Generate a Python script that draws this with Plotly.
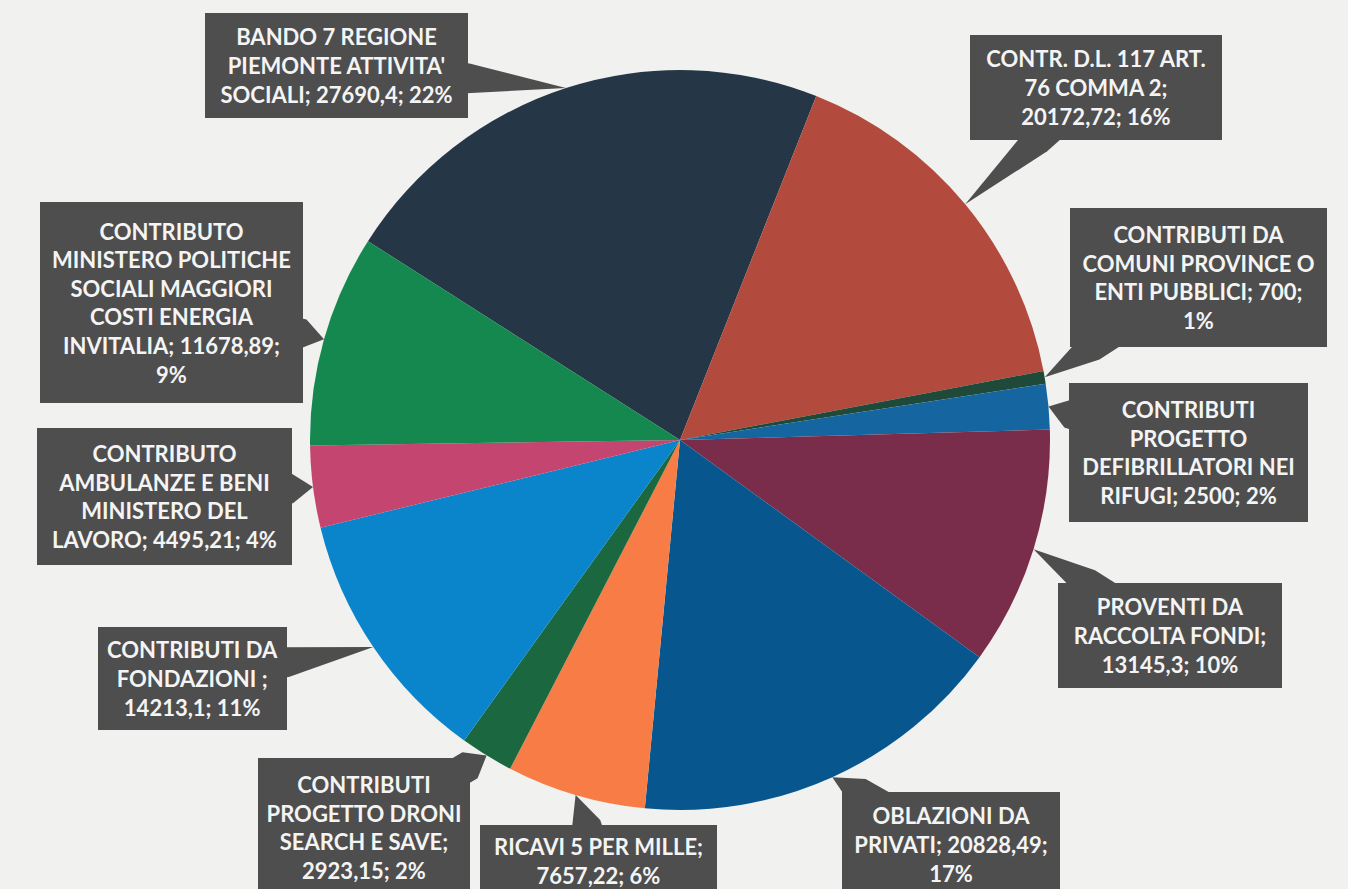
import math
import plotly.graph_objects as go

# ---------------- data ----------------
categories = [
    "BANDO 7 REGIONE PIEMONTE ATTIVITA' SOCIALI",
    "CONTR. D.L. 117 ART. 76 COMMA 2",
    "CONTRIBUTI DA COMUNI PROVINCE O ENTI PUBBLICI",
    "CONTRIBUTI PROGETTO DEFIBRILLATORI NEI RIFUGI",
    "PROVENTI DA RACCOLTA FONDI",
    "OBLAZIONI DA PRIVATI",
    "RICAVI 5 PER MILLE",
    "CONTRIBUTI PROGETTO DRONI SEARCH E SAVE",
    "CONTRIBUTI DA FONDAZIONI ",
    "CONTRIBUTO AMBULANZE E BENI MINISTERO DEL LAVORO",
    "CONTRIBUTO MINISTERO POLITICHE SOCIALI MAGGIORI COSTI ENERGIA INVITALIA",
]
values = [27690.4, 20172.72, 700, 2500, 13145.3, 20828.49,
          7657.22, 2923.15, 14213.1, 4495.21, 11678.89]

# wrapped label templates ({v} = value, {p} = percentage)
label_templates = [
    "BANDO 7 REGIONE<br>PIEMONTE ATTIVITA'<br>SOCIALI; {v}; {p}",
    "CONTR. D.L. 117 ART.<br>76 COMMA 2;<br>{v}; {p}",
    "CONTRIBUTI DA<br>COMUNI PROVINCE O<br>ENTI PUBBLICI; {v};<br>{p}",
    "CONTRIBUTI<br>PROGETTO<br>DEFIBRILLATORI NEI<br>RIFUGI; {v}; {p}",
    "PROVENTI DA<br>RACCOLTA FONDI;<br>{v}; {p}",
    "OBLAZIONI DA<br>PRIVATI; {v};<br>{p}",
    "RICAVI 5 PER MILLE;<br>{v}; {p}",
    "CONTRIBUTI<br>PROGETTO DRONI<br>SEARCH E SAVE;<br>{v}; {p}",
    "CONTRIBUTI DA<br>FONDAZIONI ;<br>{v}; {p}",
    "CONTRIBUTO<br>AMBULANZE E BENI<br>MINISTERO DEL<br>LAVORO; {v}; {p}",
    "CONTRIBUTO<br>MINISTERO POLITICHE<br>SOCIALI MAGGIORI<br>COSTI ENERGIA<br>INVITALIA; {v};<br>{p}",
]

# ---------------- styles / layout ----------------
colors = ["#253746", "#b24a3d", "#1f4a3a", "#1565a0", "#7a2d4a", "#07578e",
          "#f77c45", "#1b6840", "#0a85cc", "#c4456f", "#15884f"]

W, H = 1348, 889
CX, CY, R = 680, 440, 370
ROTATION = -57.5

# label boxes: centre x, centre y, width, height (pixels)
box_cx = [336.5, 1096, 1198.5, 1188.5, 1170, 951, 598.5, 364, 192.5, 164.5, 171.5]
box_cy = [65.5, 87.5, 277.5, 452.5, 635.5, 844.5, 861, 827.5, 678.5, 496.5, 302.5]
box_w = [263, 252, 257, 239, 224, 218, 237, 212, 189, 255, 263]
box_h = [105, 105, 139, 139, 105, 105, 72, 139, 103, 137, 201]

BOX_COLOR = "#4e4e4e"
BG = "#f1f1ef"

total = sum(values)


def fmt_value(v):
    if float(v).is_integer():
        return str(int(v))
    return ("%s" % v).replace(".", ",")


fig = go.Figure()

fig.add_trace(go.Pie(
    labels=categories,
    values=values,
    sort=False,
    direction="clockwise",
    rotation=ROTATION,
    marker=dict(colors=colors, line=dict(width=0)),
    textinfo="none",
    showlegend=False,
    domain=dict(x=[(CX - R) / W, (CX + R) / W],
                y=[(H - CY - R) / H, (H - CY + R) / H]),
))

# invisible pixel axes for annotations / callouts
fig.add_trace(go.Scatter(x=[0, W], y=[0, H], mode="markers",
                         marker=dict(opacity=0), hoverinfo="skip",
                         showlegend=False))

shapes = []
annotations = []
cum = 0.0
HW = 15
for i, v in enumerate(values):
    mid = math.radians(ROTATION + 360.0 * (cum + v / 2.0) / total)
    cum += v
    tx = CX + R * math.sin(mid)
    ty = CY - R * math.cos(mid)
    cx, cy, bw, bh = box_cx[i], box_cy[i], box_w[i], box_h[i]
    dx, dy = tx - cx, ty - cy
    s = min((bw / 2) / abs(dx) if dx else 1e9, (bh / 2) / abs(dy) if dy else 1e9)
    ex, ey = cx + s * dx, cy + s * dy
    L = math.hypot(dx, dy)
    nx, ny = -dy / L, dx / L
    path = "M %.1f,%.1f L %.1f,%.1f L %.1f,%.1f L %.1f,%.1f L %.1f,%.1f Z" % (
        tx, ty,
        ex + nx * HW, ey + ny * HW,
        cx + nx * HW, cy + ny * HW,
        cx - nx * HW, cy - ny * HW,
        ex - nx * HW, ey - ny * HW)
    shapes.append(dict(type="path", path=path, xref="x", yref="y",
                       fillcolor=BOX_COLOR, line=dict(width=0), layer="above"))
    pct = "%d%%" % round(v / total * 100)
    text = label_templates[i].format(v=fmt_value(v), p=pct)
    annotations.append(dict(
        x=cx, y=cy, xref="x", yref="y", text=text, showarrow=False,
        xanchor="center", yanchor="middle", align="center", valign="middle",
        width=bw, height=bh, bgcolor=BOX_COLOR, borderpad=0, borderwidth=0,
        font=dict(family="Lato", size=22, color="#f4f4f4", weight="bold"),
    ))

fig.update_layout(
    width=W, height=H,
    margin=dict(l=0, r=0, t=0, b=0),
    paper_bgcolor=BG, plot_bgcolor="rgba(0,0,0,0)",
    xaxis=dict(range=[0, W], visible=False, domain=[0, 1], fixedrange=True),
    yaxis=dict(range=[H, 0], visible=False, domain=[0, 1], fixedrange=True),
    shapes=shapes,
    annotations=annotations,
)

fig.write_html("out.html",
               config={"displayModeBar": False},
               post_script="document.body.style.margin='0';"
                           "document.body.style.overflow='hidden';")
